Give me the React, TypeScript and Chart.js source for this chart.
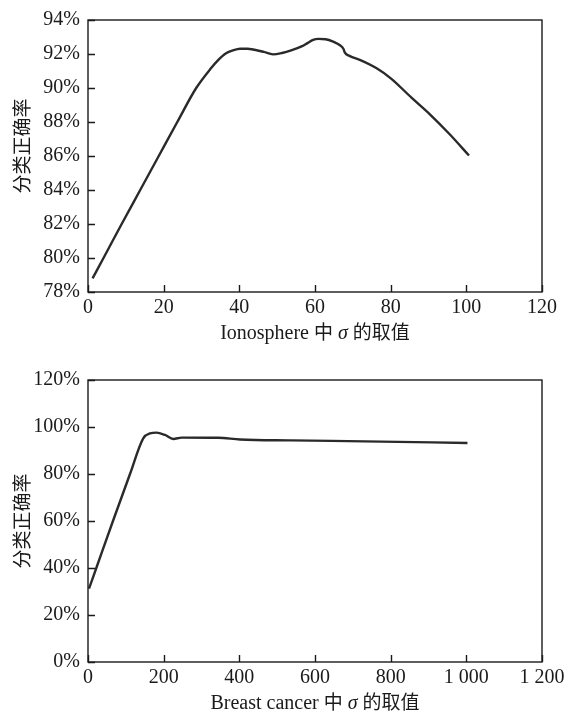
import React, { useEffect, useRef } from "react";
import { Chart, registerables } from "chart.js";

Chart.register(...registerables);

// Ionosphere: σ vs. classification accuracy (%)
const ionoSigma = [1.2, 4.1, 8.9, 13.8, 18.7, 23.6, 28.6, 32.5, 34.4, 36.3, 38.3, 40.2, 42.1, 44.0, 46.5, 48.9, 51.3, 53.7, 56.6, 58.0, 59.5, 60.9, 62.8, 64.8, 66.7, 67.5, 67.9, 69.1, 72.0, 76.3, 80.2, 85.5, 90.3, 95.6, 100.7];
const ionoAccuracy = [78.8, 80.0, 82.0, 84.0, 86.0, 88.0, 90.0, 91.16, 91.64, 92.02, 92.21, 92.31, 92.31, 92.25, 92.12, 91.98, 92.06, 92.21, 92.46, 92.64, 92.83, 92.89, 92.87, 92.73, 92.5, 92.31, 92.08, 91.89, 91.64, 91.16, 90.54, 89.43, 88.47, 87.28, 86.03];

// Breast cancer: σ vs. classification accuracy (%)
const breastSigma = [2.6, 22, 66, 111, 146, 164, 181, 203.5, 225.5, 247.6, 344, 402, 537, 730, 1003];
const breastAccuracy = [31.2, 40.0, 60.0, 80.0, 95.2, 97.3, 97.6, 96.6, 94.9, 95.5, 95.4, 94.7, 94.3, 93.9, 93.2];

const ionoXTicks = [0, 20, 40, 60, 80, 100, 120];
const ionoYTicks = [78, 80, 82, 84, 86, 88, 90, 92, 94];
const breastXTicks = [0, 200, 400, 600, 800, 1000, 1200];
const breastYTicks = [0, 20, 40, 60, 80, 100, 120];

const yTitle = "分类正确率";
const ionoXTitle = [
  { text: "Ionosphere ", kind: "serif" },
  { text: "中", kind: "cjk" },
  { text: " ", kind: "serif" },
  { text: "σ", kind: "italic" },
  { text: " ", kind: "serif" },
  { text: "的取值", kind: "cjk" },
];
const breastXTitle = [
  { text: "Breast cancer ", kind: "serif" },
  { text: "中", kind: "cjk" },
  { text: " ", kind: "serif" },
  { text: "σ", kind: "italic" },
  { text: " ", kind: "serif" },
  { text: "的取值", kind: "cjk" },
];

const SERIF = "'Liberation Serif', 'DejaVu Serif', serif";
const CJK = "'Noto Sans CJK SC', sans-serif";
const INK = "#1a1a1a";

const fontFor = (kind: string) =>
  kind === "cjk" ? `19px ${CJK}` : kind === "italic" ? `italic 20px ${SERIF}` : `20px ${SERIF}`;

const groupNumber = (v: number) =>
  String(v).replace(/\B(?=(\d{3})+(?!\d))/g, " ");

// Frame, inward tick marks and both axis titles
const framePlugin = {
  id: "frameAndTicks",
  afterDraw(chart: any, _args: any, opts: any) {
    const { ctx, chartArea } = chart;
    const { left, right, top, bottom } = chartArea;
    const xs = chart.scales.x;
    const ys = chart.scales.y;
    ctx.save();
    ctx.strokeStyle = INK;
    ctx.lineWidth = 1.4;
    ctx.strokeRect(left, top, right - left, bottom - top);
    ctx.beginPath();
    xs.ticks.forEach((t: any) => {
      const px = Math.round(xs.getPixelForValue(t.value)) + 0.5;
      ctx.moveTo(px, bottom);
      ctx.lineTo(px, bottom - 7);
    });
    ys.ticks.forEach((t: any) => {
      const py = Math.round(ys.getPixelForValue(t.value)) + 0.5;
      ctx.moveTo(left, py);
      ctx.lineTo(left + 7, py);
    });
    ctx.stroke();

    // x-axis title built from runs of different fonts
    const runs = opts.title as { text: string; kind: string }[];
    let total = 0;
    runs.forEach((r) => {
      ctx.font = fontFor(r.kind);
      total += ctx.measureText(r.text).width;
    });
    let x = (left + right) / 2 - total / 2;
    const baseY = bottom + 47;
    ctx.fillStyle = INK;
    ctx.textBaseline = "alphabetic";
    ctx.textAlign = "left";
    runs.forEach((r) => {
      ctx.font = fontFor(r.kind);
      ctx.fillText(r.text, x, baseY);
      x += ctx.measureText(r.text).width;
    });

    // rotated y-axis title
    ctx.translate(22, (top + bottom) / 2 + (opts.yShift || 0));
    ctx.rotate(-Math.PI / 2);
    ctx.font = `19px ${CJK}`;
    ctx.textAlign = "center";
    ctx.textBaseline = "middle";
    ctx.fillText(yTitle, 0, 0);
    ctx.restore();
  },
};

type PanelProps = {
  height: number;
  padTop: number;
  padBottom: number;
  yShift: number;
  xs: number[];
  ys: number[];
  xTicks: number[];
  yTicks: number[];
  xTitle: { text: string; kind: string }[];
  xFormat: (v: number) => string;
};

function Panel(p: PanelProps) {
  const ref = useRef<HTMLCanvasElement | null>(null);

  useEffect(() => {
    if (!ref.current) return;
    const points = p.xs.map((x, i) => ({ x, y: p.ys[i] }));
    const chart = new Chart(ref.current, {
      type: "line",
      data: {
        datasets: [
          {
            data: points,
            borderColor: "#2a2a2a",
            borderWidth: 2.4,
            pointRadius: 0,
            cubicInterpolationMode: "monotone",
            fill: false,
          },
        ],
      },
      options: {
        responsive: false,
        animation: false,
        layout: { padding: { left: 0, right: 29, top: p.padTop, bottom: p.padBottom } },
        plugins: {
          legend: { display: false },
          tooltip: { enabled: false },
          frameAndTicks: { title: p.xTitle, yShift: p.yShift },
        } as any,
        scales: {
          x: {
            type: "linear",
            min: p.xTicks[0],
            max: p.xTicks[p.xTicks.length - 1],
            afterBuildTicks: (scale: any) => {
              scale.ticks = p.xTicks.map((v) => ({ value: v }));
            },
            afterFit: (scale: any) => {
              scale.height = 52;
            },
            grid: { display: false, drawTicks: false },
            border: { display: false },
            ticks: {
              padding: 4,
              color: INK,
              maxRotation: 0,
              autoSkip: false,
              font: { family: SERIF, size: 20 },
              callback: (v: any) => p.xFormat(Number(v)),
            },
          },
          y: {
            type: "linear",
            min: p.yTicks[0],
            max: p.yTicks[p.yTicks.length - 1],
            afterBuildTicks: (scale: any) => {
              scale.ticks = p.yTicks.map((v) => ({ value: v }));
            },
            afterFit: (scale: any) => {
              scale.width = 88;
            },
            grid: { display: false, drawTicks: false },
            border: { display: false },
            ticks: {
              padding: 8,
              color: INK,
              autoSkip: false,
              font: { family: SERIF, size: 20 },
              callback: (v: any) => `${v}%`,
            },
          },
        },
      } as any,
      plugins: [framePlugin],
    });
    return () => chart.destroy();
  }, []);

  return (
    <canvas
      ref={ref}
      width={571}
      height={p.height}
      style={{ display: "block", width: 571, height: p.height }}
    />
  );
}

export default function App() {
  return (
    <div style={{ position: "absolute", left: 0, top: 0, width: 571, height: 715, background: "#fff" }}>
      <Panel
        height={357}
        padTop={14}
        padBottom={13}
        yShift={-10}
        xs={ionoSigma}
        ys={ionoAccuracy}
        xTicks={ionoXTicks}
        yTicks={ionoYTicks}
        xTitle={ionoXTitle}
        xFormat={(v) => String(v)}
      />
      <Panel
        height={358}
        padTop={23}
        padBottom={1}
        yShift={0}
        xs={breastSigma}
        ys={breastAccuracy}
        xTicks={breastXTicks}
        yTicks={breastYTicks}
        xTitle={breastXTitle}
        xFormat={groupNumber}
      />
    </div>
  );
}
